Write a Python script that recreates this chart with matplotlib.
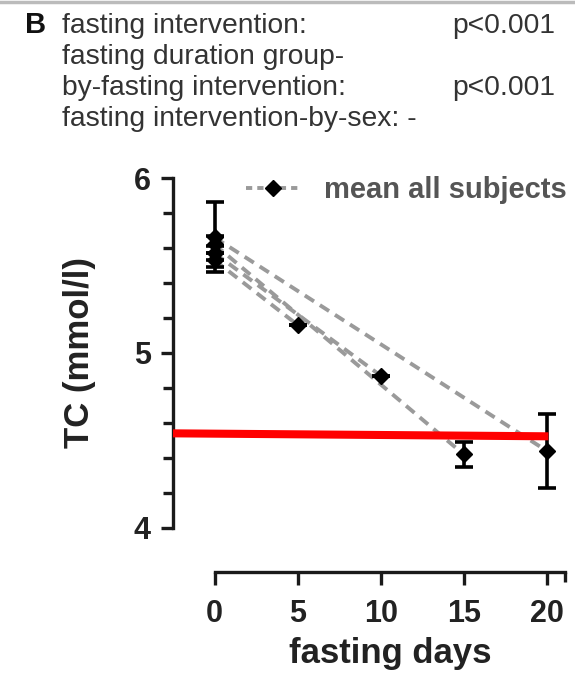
import matplotlib
matplotlib.use("Agg")
import matplotlib.pyplot as plt
from matplotlib.lines import Line2D
from matplotlib.ticker import FixedLocator

plt.rcParams['font.family'] = ['Liberation Sans', 'DejaVu Sans']

# ---- data ----
group_days = [5, 10, 15, 20]
baseline_tc = [5.53, 5.57, 5.62, 5.66]
baseline_sd = [0.04, 0.04, 0.05, 0.20]
end_tc = [5.16, 4.87, 4.42, 4.44]
end_sd = [0.0, 0.0, 0.07, 0.21]
redline_x = [-2.5, 20.1]
redline_y = [4.54, 4.523]
x_ticks = [0, 5, 10, 15, 20]
y_ticks = [4, 5, 6]
header_lines = ["fasting intervention:", "fasting duration group-",
                "by-fasting intervention:", "fasting intervention-by-sex: -"]
header_p = ["p<0.001", "", "p<0.001", ""]

W, H = 575, 675
fig = plt.figure(figsize=(W / 100, H / 100), dpi=100)
ax = fig.add_axes([173 / W, 1 - 571.5 / H, 392 / W, 393.5 / H])
ax.set_xlim(-2.5, 21.1)
ax.set_ylim(3.75, 6.0)

grey = '#9a9a9a'
for d, b, bs, e, es in zip(group_days, baseline_tc, baseline_sd, end_tc, end_sd):
    ax.plot([0, d], [b, e], color=grey, lw=2.8, dashes=(2.8, 1.8), zorder=2,
            clip_on=False)
    ax.errorbar([0, d], [b, e], yerr=[bs, es], fmt='D', color='black', ms=8.5,
                elinewidth=2.6, capsize=6.5, capthick=2.6, linestyle='none',
                zorder=3, clip_on=False)

ax.plot(redline_x, redline_y, color='#ff0000', lw=5.8, solid_capstyle='butt',
        zorder=5, clip_on=False)

# spines
for s in ['top', 'right']:
    ax.spines[s].set_visible(False)
ax.spines['left'].set_bounds(4, 6)
ax.spines['bottom'].set_bounds(0, 21.1)
for s in ['left', 'bottom']:
    ax.spines[s].set_linewidth(2.4)
    ax.spines[s].set_color('#1a1a1a')

ax.set_xticks(x_ticks)
ax.set_xticklabels([str(t) for t in x_ticks])
ax.xaxis.set_minor_locator(FixedLocator([21.1]))
ax.set_yticks(y_ticks)
ax.set_yticklabels([str(t) for t in y_ticks])
ax.yaxis.set_minor_locator(FixedLocator([4.2, 4.4, 4.6, 4.8, 5.2, 5.4, 5.6, 5.8]))
ax.tick_params(axis='both', which='major', length=9, width=2.4, labelsize=22,
               color='#1a1a1a')
ax.tick_params(axis='both', which='minor', length=7, width=2.4, color='#1a1a1a')
ax.tick_params(axis='y', which='major', pad=7)
ax.tick_params(axis='x', which='major', pad=11)
for lab in ax.get_xticklabels() + ax.get_yticklabels():
    lab.set_fontweight('bold')
    lab.set_color('#222222')

ax.set_xlabel('fasting days', fontsize=25, fontweight='bold', color='#222222')
ax.xaxis.set_label_coords((390 - 173) / 392, -(663 - 571.5) / 393.5)
ax.xaxis.label.set_va('baseline')
ax.set_ylabel('TC (mmol/l)', fontsize=25, fontweight='bold', color='#222222')
ax.yaxis.set_label_coords(-(173 - 80) / 392, (571.5 - 353) / 393.5)
ax.yaxis.label.set_va('center')

handle = Line2D([], [], color=grey, lw=2.8, dashes=(1.6, 1.3), marker='D',
                markersize=8.5, markerfacecolor='black', markeredgecolor='black')
leg = ax.legend([handle], ['mean all subjects'], loc='upper right',
                bbox_to_anchor=(1.035, 1.035), frameon=False, handlelength=1.85,
                handletextpad=0.85, prop={'size': 21, 'weight': 'bold'},
                labelcolor='#555555', borderaxespad=0)

# header text
fig.text(25 / W, 1 - 33 / H, 'B', fontsize=21, fontweight='bold', color='#111111',
         va='baseline', ha='left')
for i, (t, p) in enumerate(zip(header_lines, header_p)):
    yb = 1 - (33 + 31 * i) / H
    fig.text(62 / W, yb, t, fontsize=20.3, color='#333333', va='baseline', ha='left')
    if p:
        fig.text(452 / W, yb, p, fontsize=20.3, color='#333333', va='baseline',
                 ha='left')

# thin grey frame at top
fig.add_artist(Line2D([0, 1], [1 - 1.5 / H, 1 - 1.5 / H], color='#bbbbbb', lw=2.5,
                      transform=fig.transFigure))

fig.savefig('out.png', dpi=100)
